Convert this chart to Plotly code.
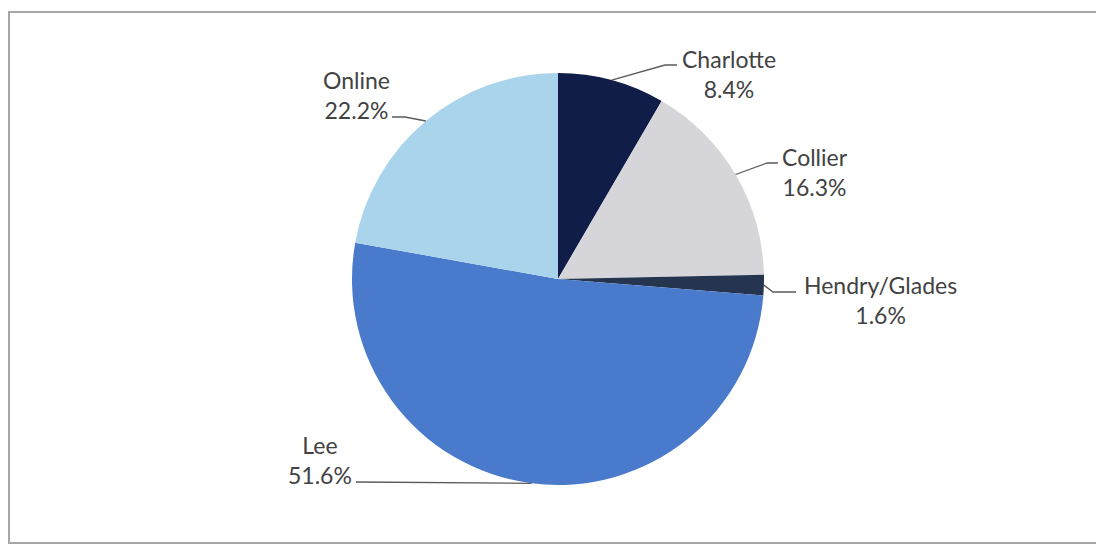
import math
import plotly.graph_objects as go

# Enrollment share by location
categories = ["Charlotte", "Collier", "Hendry/Glades", "Lee", "Online"]
shares = [8.4, 16.3, 1.6, 51.6, 22.2]
slice_colors = ["#101d48", "#d6d6da", "#26354f", "#4a7acb", "#a9d4eb"]

W, H = 1096, 547
# pie geometry in pixels (center and radius)
CX, CY, R = 558, 279, 206

# label block centers and leader-line bends, in pixels
label_centers = {
    "Charlotte": (729, 74),
    "Collier": (815, 172),
    "Hendry/Glades": (880, 300),
    "Lee": (320, 460),
    "Online": (356, 95),
}
leader_bends = {
    "Charlotte": [(665, 65), (677, 65)],
    "Collier": [(767, 163), (778, 163)],
    "Hendry/Glades": [(773, 292), (796, 292)],
    "Lee": [(356, 482)],
    "Online": [(405, 117), (392, 117)],
}


def px(x):
    return x / W


def py(y):
    return 1 - y / H


fig = go.Figure(
    go.Pie(
        labels=categories,
        values=shares,
        sort=False,
        direction="clockwise",
        rotation=0,
        marker=dict(colors=slice_colors, line=dict(width=0)),
        textinfo="none",
        hoverinfo="label+percent",
        showlegend=False,
        domain=dict(x=[px(CX - R), px(CX + R)], y=[py(CY + R), py(CY - R)]),
    )
)

total = sum(shares)
cum = 0.0
shapes = []
annotations = []
for name, v in zip(categories, shares):
    mid = 2 * math.pi * (cum + v / 2) / total
    cum += v
    ex = CX + R * math.sin(mid)
    ey = CY - R * math.cos(mid)
    pts = [(ex, ey)] + leader_bends[name]
    path = "M " + " L ".join(f"{px(x):.5f},{py(y):.5f}" for x, y in pts)
    shapes.append(
        dict(type="path", xref="paper", yref="paper", path=path,
             line=dict(color="#5a5a5a", width=1.3))
    )
    lx, ly = label_centers[name]
    annotations.append(
        dict(
            x=px(lx), y=py(ly), xref="paper", yref="paper",
            text=f"{name}<br>{v:.1f}%",
            showarrow=False, align="center",
            xanchor="center", yanchor="middle",
            font=dict(family="Lato, Calibri, sans-serif", size=23, color="#424242"),
        )
    )

# chart frame
shapes.append(
    dict(type="rect", xref="paper", yref="paper",
         x0=px(9), y0=py(543), x1=px(1110), y1=py(12),
         line=dict(color="#a6a6a6", width=2), fillcolor="rgba(0,0,0,0)")
)

fig.update_layout(
    width=W, height=H,
    margin=dict(l=0, r=0, t=0, b=0),
    paper_bgcolor="white",
    plot_bgcolor="white",
    shapes=shapes,
    annotations=annotations,
)

fig.write_html("out.html")
